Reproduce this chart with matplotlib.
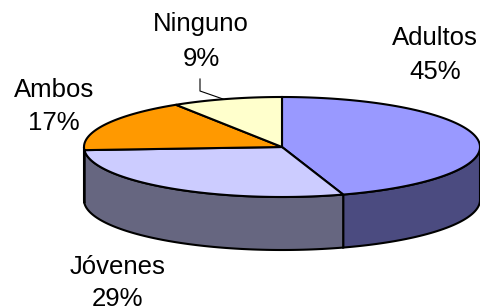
import numpy as np
import matplotlib.pyplot as plt
from matplotlib.patches import Polygon

categorias = ['Adultos', 'Jóvenes', 'Ambos', 'Ninguno']
porcentajes = [45, 29, 17, 9]
color_tapa = ['#9999FF', '#CCCCFF', '#FF9900', '#FFFFCC']
color_lado = ['#4B4B80', '#666680', '#804C00', '#808066']

# posiciones de las etiquetas (centro x, linea base del nombre, linea base del %)
etiquetas_pos = [(435, 45, 79), (118, 274, 306), (54, 97, 130), (201, 31, 66)]

cx, cy = 282, 147      # centro de la elipse (pixeles)
a, b = 198, 50         # semiejes
alto = 53              # grosor del pastel

plt.rcParams['font.family'] = ['Liberation Sans', 'DejaVu Sans']
fig = plt.figure(figsize=(4.81, 3.07), dpi=100)
ax = fig.add_axes([0, 0, 1, 1])
ax.set_xlim(0, 481)
ax.set_ylim(307, 0)
ax.axis('off')

def punto(t, dy=0):
    t = np.radians(t)
    return cx + a*np.cos(t), cy - b*np.sin(t) + dy

total = sum(porcentajes)
inicio = 90.0
angulos = []
for p in porcentajes:
    fin = inicio - 360.0*p/total
    angulos.append((inicio, fin))
    inicio = fin

# lados (solo la parte frontal, angulos entre -180 y 0)
for (t1, t2), c in zip(angulos, color_lado):
    lo, hi = max(t2, -180), min(t1, 0)
    if hi <= lo:
        continue
    ts = np.linspace(hi, lo, 80)
    arriba = [punto(t) for t in ts]
    abajo = [punto(t, alto) for t in ts[::-1]]
    ax.add_patch(Polygon(arriba + abajo, closed=True, facecolor=c,
                         edgecolor='black', linewidth=1.5, zorder=1))

# tapa
for (t1, t2), c in zip(angulos, color_tapa):
    ts = np.linspace(t1, t2, 120)
    pts = [(cx, cy)] + [punto(t) for t in ts]
    ax.add_patch(Polygon(pts, closed=True, facecolor=c,
                         edgecolor='black', linewidth=1.5, zorder=2))

for cat, p, (x, y1, y2) in zip(categorias, porcentajes, etiquetas_pos):
    ax.text(x, y1, cat, ha='center', va='baseline', fontsize=18.5)
    ax.text(x, y2, f'{p}%', ha='center', va='baseline', fontsize=18.5)

# linea guia de Ninguno
ax.plot([200, 200, 223], [79, 91, 99], color='black', linewidth=0.8, zorder=3)

fig.savefig('out.png', dpi=100)
